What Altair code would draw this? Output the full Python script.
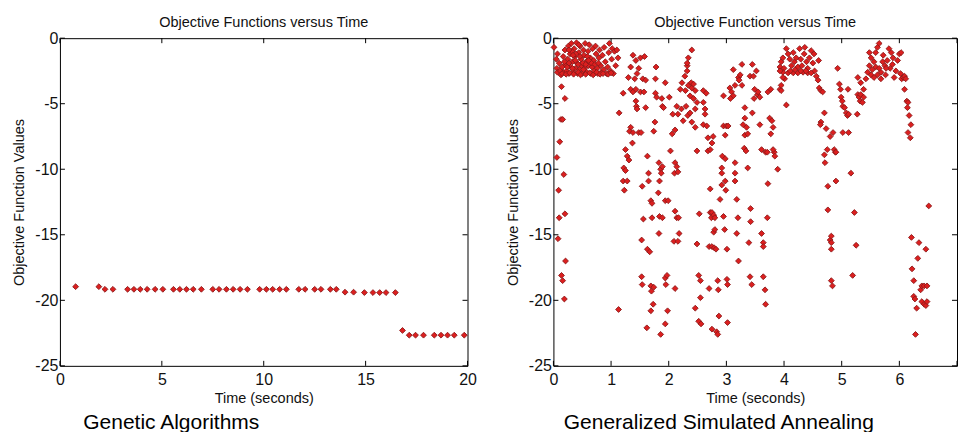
import altair as alt
import pandas as pd

# ---------------- data ----------------
ga_time = [0.77, 1.91, 2.21, 2.60, 3.32, 3.63, 3.94, 4.28, 4.67, 5.05, 5.57, 5.88, 6.21, 6.54,
           6.94, 7.50, 7.81, 8.17, 8.50, 8.84, 9.20, 9.80, 10.13, 10.44, 10.78, 11.11, 11.72,
           12.03, 12.50, 12.81, 13.27, 13.56, 13.99, 14.41, 14.94, 15.36, 15.69, 16.00, 16.46,
           16.81, 17.14, 17.45, 17.84, 18.37, 18.70, 19.02, 19.35, 19.84]
ga_value = [-18.96, -18.96, -19.16, -19.16, -19.16, -19.16, -19.16, -19.16, -19.16, -19.16,
            -19.16, -19.16, -19.16, -19.16, -19.16, -19.16, -19.16, -19.16, -19.16, -19.16,
            -19.16, -19.16, -19.16, -19.16, -19.16, -19.16, -19.16, -19.16, -19.16, -19.16,
            -19.16, -19.16, -19.38, -19.38, -19.41, -19.41, -19.41, -19.41, -19.41,
            -22.30, -22.66, -22.66, -22.66, -22.66, -22.66, -22.66, -22.66, -22.66]

gsa_seg_a = [
    (0.01, -0.7), (0.07, -1.2), (0.06, -9.1), (0.09, -11.6), (0.10, -13.7), (0.08, -15.3),
    (0.13, -6.2), (0.16, -6.2), (0.11, -7.9), (0.14, -3.7), (0.20, -4.6), (0.18, -10.4),
    (0.20, -13.4), (0.21, -17.0), (0.14, -18.1), (0.16, -18.5), (0.19, -19.9),
    (0.05, -1.6), (0.06, -2.3), (0.07, -2.6), (0.10, -1.9), (0.12, -2.5), (0.13, -2.8),
    (0.15, -2.2), (0.17, -1.4), (0.18, -2.6), (0.20, -0.9), (0.21, -2.0), (0.23, -2.5),
    (0.25, -1.6), (0.26, -0.6), (0.27, -2.7), (0.29, -1.2), (0.30, -2.2), (0.31, -0.4),
    (0.33, -1.8), (0.34, -2.6), (0.36, -0.8), (0.37, -1.4), (0.38, -2.3), (0.40, -0.35),
    (0.41, -1.9), (0.42, -2.7), (0.44, -1.1), (0.45, -2.4), (0.46, -0.6), (0.48, -1.6),
    (0.49, -2.1), (0.50, -2.7), (0.52, -0.9), (0.53, -1.3), (0.54, -2.3), (0.55, -0.4),
    (0.57, -1.8), (0.58, -2.6), (0.60, -1.0), (0.61, -2.1), (0.62, -0.5), (0.64, -1.5),
    (0.65, -2.7), (0.67, -2.2), (0.68, -0.8), (0.70, -1.7), (0.71, -2.5), (0.73, -0.6),
    (0.74, -1.2), (0.76, -2.3), (0.77, -2.7), (0.79, -1.5), (0.80, -0.9), (0.82, -2.1),
    (0.83, -2.6), (0.85, -1.3), (0.87, -2.4), (0.88, -0.7), (0.90, -1.8), (0.92, -2.7),
    (0.94, -2.2), (0.96, -1.1), (0.97, -0.4), (0.99, -2.5), (1.01, -1.6), (1.02, -0.8),
    (1.04, -2.7), (1.06, -1.0), (1.08, -2.1), (1.10, -0.9), (1.12, -1.5), (0.15, -2.7),
    (0.22, -2.75), (0.28, -2.65), (0.35, -2.75), (0.43, -2.6), (0.47, -2.8), (0.56, -2.75),
    (0.63, -2.65), (0.69, -2.8), (0.75, -2.6), (0.81, -2.75), (0.86, -2.7), (0.95, -2.75),
    (1.00, -2.65), (0.32, -1.0), (0.39, -1.2), (0.51, -1.9), (0.59, -1.4), (0.66, -1.9),
    (0.72, -2.0), (0.78, -1.9), (0.19, -1.8), (0.24, -2.2), (0.27, -1.9), (0.33, -2.3),
    (0.38, -1.7), (0.43, -2.0), (0.46, -1.4), (0.52, -2.4), (0.56, -2.0), (0.61, -1.7),
    (0.27, -0.9), (0.44, -0.5), (0.34, -1.3), (1.14, -5.7), (1.13, -20.7),
]

gsa_seg_b = [
    (1.21, -4.2), (1.25, -8.5), (1.28, -9.0), (1.22, -9.9), (1.25, -10.1), (1.21, -10.9),
    (1.23, -11.6), (1.28, -10.9), (1.31, -9.3), (1.34, -6.8), (1.32, -7.1), (1.38, -7.2),
    (1.37, -8.0), (1.34, -3.9), (1.38, -4.1), (1.43, -3.9), (1.38, -1.3), (1.43, -1.7),
    (1.45, -2.7), (1.41, -3.1), (1.30, -3.0), (1.34, -2.2), (1.44, -5.2), (1.45, -5.4),
    (1.43, -4.8), (1.48, -7.2), (1.52, -7.2), (1.51, -1.5), (1.58, -1.4), (1.48, -2.3),
    (1.55, -3.1), (1.60, -3.2), (1.51, -4.1), (1.57, -4.1), (1.60, -5.3), (1.53, -15.4),
    (1.56, -13.8), (1.54, -11.3), (1.53, -18.2), (1.54, -18.8), (1.63, -9.0), (1.65, -10.3),
    (1.65, -10.9), (1.63, -16.1), (1.67, -16.3), (1.62, -22.1), (1.69, -12.4), (1.71, -12.6),
    (1.69, -18.9), (1.70, -19.3), (1.74, -19.0), (1.69, -20.8), (1.73, -20.3), (1.71, -13.7),
    (1.76, -6.4), (1.74, -7.1), (1.77, -4.2), (1.77, -3.1), (1.78, -2.2), (1.79, -4.5),
    (1.82, -11.8), (1.86, -10.0), (1.83, -9.5), (1.84, -10.9), (1.87, -10.3), (1.89, -9.8),
    (1.84, -13.6), (1.89, -13.7), (1.83, -14.9), (1.86, -22.6), (1.88, -4.6), (1.89, -5.2),
    (1.91, -5.3), (1.94, -3.4), (1.94, -12.4), (1.99, -12.4), (1.94, -18.3), (1.97, -18.1),
    (1.95, -18.8), (1.94, -21.8), (1.98, -20.8), (2.01, -4.5), (2.03, -8.6), (2.06, -7.3),
    (2.07, -5.8), (2.11, -7.0), (2.11, -9.5), (2.10, -10.3), (2.14, -9.8), (2.16, -10.2),
    (2.11, -13.2), (2.14, -13.7), (2.17, -13.7), (2.18, -14.9), (2.09, -15.5), (2.16, -15.5),
    (2.11, -19.1), (2.16, -5.8), (2.14, -5.2), (2.20, -3.9), (2.22, -5.4), (2.23, -3.4),
    (2.25, -6.3), (2.28, -2.9), (2.29, -4.0), (2.30, -5.2), (2.32, -2.5), (2.32, -2.1),
    (2.34, -1.5), (2.40, -0.9), (2.34, -3.6), (2.39, -3.4), (2.40, -3.8), (2.43, -3.5),
    (2.37, -4.4), (2.43, -4.6), (2.46, -4.0), (2.33, -5.9), (2.37, -5.7), (2.40, -6.4),
    (2.32, -1.9),
]

gsa_seg_c = [
    (2.46, -6.8), (2.49, -8.6), (2.53, -13.4), (2.49, -15.7), (2.52, -18.1), (2.55, -18.5),
    (2.55, -19.8), (2.46, -20.6), (2.52, -21.6), (2.56, -21.8), (2.46, -5.4), (2.49, -4.9),
    (2.60, -4.0), (2.60, -4.9), (2.63, -5.4), (2.63, -5.8), (2.65, -4.2), (2.60, -6.6),
    (2.66, -6.7), (2.68, -7.6), (2.68, -8.6), (2.72, -8.5), (2.75, -8.0), (2.77, -7.5),
    (2.72, -11.5), (2.72, -13.3), (2.74, -13.7), (2.75, -13.3), (2.78, -13.5), (2.80, -13.7),
    (2.78, -14.8), (2.80, -14.6), (2.70, -15.9), (2.75, -15.9), (2.79, -16.0), (2.82, -16.1),
    (2.70, -19.1), (2.75, -22.2), (2.83, -22.4), (2.85, -22.6), (2.85, -18.5), (2.86, -19.2),
    (2.87, -21.2), (2.89, -12.3), (2.92, -9.9), (2.93, -9.0), (2.92, -10.3), (2.95, -4.4),
    (2.95, -6.7), (2.98, -7.4), (3.00, -6.7), (3.03, -6.7), (2.92, -11.2), (2.98, -10.9),
    (2.99, -11.6), (2.95, -13.6), (2.97, -14.6), (3.01, -16.1), (3.01, -18.4), (3.02, -18.8),
    (3.02, -21.7), (2.98, -9.2), (3.06, -3.8), (3.09, -4.1), (3.12, -4.4), (3.07, -4.6),
    (3.15, -3.6), (3.12, -2.4), (3.15, -9.5), (3.15, -10.3), (3.15, -10.9), (3.18, -12.3),
    (3.20, -13.7), (3.18, -14.9), (3.21, -17.0), (3.21, -3.0), (3.22, -3.2), (3.24, -2.8),
    (3.27, -2.0), (3.27, -3.6), (3.29, -6.6), (3.32, -6.1), (3.32, -5.3), (3.35, -6.8),
    (3.32, -7.4), (3.37, -7.3), (3.31, -8.4), (3.34, -8.6), (3.37, -9.9), (3.41, -2.9),
    (3.42, -13.0), (3.42, -14.0), (3.39, -15.6), (3.41, -18.2), (3.44, -18.8), (3.45, -2.0),
    (3.47, -2.9), (3.49, -3.9), (3.48, -4.6), (3.45, -5.7), (3.52, -2.5), (3.54, -4.3),
    (3.55, -4.1), (3.58, -4.5), (3.58, -6.6), (3.61, -8.5), (3.61, -14.9), (3.64, -15.6),
    (3.64, -15.9), (3.64, -18.2), (3.67, -19.2), (3.68, -20.3), (3.68, -8.7), (3.71, -8.7),
    (3.72, -11.1), (3.71, -13.7), (3.72, -4.1), (3.77, -3.9), (3.75, -6.1), (3.79, -6.3),
    (3.81, -6.8), (3.77, -7.3), (3.83, -8.7), (3.84, -9.0), (3.81, -8.5), (3.89, -10.0),
]

gsa_seg_d = [
    (3.93, -3.9), (3.95, -4.0), (3.93, -2.2), (3.95, -1.8), (3.98, -1.5), (4.00, -2.3),
    (4.04, -0.8), (4.07, -1.2), (4.10, -1.6), (4.13, -2.1), (4.16, -1.1), (4.18, -1.8),
    (4.21, -1.5), (4.24, -2.2), (4.27, -0.8), (4.29, -1.6), (4.31, -2.1), (4.35, -1.2),
    (4.36, -0.7), (4.39, -1.8), (4.41, -2.3), (4.44, -1.5), (4.47, -0.95), (4.50, -1.9),
    (4.52, -1.2), (4.53, -2.5), (4.56, -2.9), (4.59, -3.2), (4.61, -3.8), (4.64, -4.0),
    (4.67, -4.1), (4.60, -1.7), (3.98, -2.6), (4.07, -2.65), (4.16, -2.65), (4.24, -2.65),
    (4.33, -2.6), (4.41, -2.65), (4.47, -2.65), (4.11, -2.5), (4.19, -2.4), (4.29, -2.5),
    (4.38, -2.5), (4.01, -3.1), (3.95, -3.6), (4.04, -5.1), (3.98, -3.0), (3.93, -2.5),
    (4.64, -6.4), (4.63, -6.6), (4.70, -5.7), (4.73, -6.9), (4.70, -8.9), (4.71, -9.5),
    (4.75, -8.5), (4.76, -11.3), (4.76, -13.1), (4.80, -15.4), (4.82, -15.6), (4.82, -15.1),
    (4.82, -16.1), (4.82, -18.5), (4.84, -18.9), (4.80, -7.5), (4.85, -7.2), (4.87, -8.5),
    (4.89, -8.7), (4.90, -8.7), (4.90, -10.9), (4.93, -2.3), (4.96, -3.5), (4.98, -3.9),
    (4.99, -4.5), (5.01, -4.8), (5.02, -5.2), (5.05, -5.3), (5.08, -5.7), (5.10, -5.9),
    (5.12, -5.8), (5.11, -3.9), (5.12, -7.2), (5.02, -7.2), (5.16, -10.3), (5.19, -18.1),
    (5.22, -13.3), (5.25, -15.8), (5.27, -5.8), (5.28, -4.3), (5.30, -4.5), (5.32, -4.8),
    (5.33, -4.3), (5.36, -4.9), (5.38, -4.5), (5.33, -3.4), (5.28, -3.0), (5.38, -3.9),
    (5.42, -3.1), (5.45, -2.6), (5.48, -2.1), (5.51, -2.8), (5.53, -2.4), (5.56, -1.8),
    (5.59, -1.1), (5.62, -0.7), (5.65, -0.4), (5.59, -2.2), (5.62, -2.8), (5.68, -2.6),
    (5.71, -1.8), (5.72, -1.3), (5.75, -2.1), (5.76, -2.8), (5.79, -1.7), (5.82, -0.8),
    (5.84, -2.3), (5.86, -1.1), (5.88, -2.0), (5.91, -3.0), (5.94, -2.5), (5.97, -1.7),
    (6.00, -1.2), (6.02, -2.7), (6.03, -1.1), (6.04, -3.1), (6.07, -3.0), (6.09, -2.9),
    (6.11, -3.1), (5.51, -1.5), (5.48, -1.1), (5.56, -3.0), (5.68, -3.1), (5.65, -2.3),
    (5.77, -2.3), (5.89, -1.5), (6.09, -3.9), (6.13, -4.8), (6.15, -4.9), (6.14, -5.3),
    (6.17, -5.9), (6.15, -7.2), (6.19, -7.6), (6.20, -6.6), (6.21, -15.2), (6.22, -17.6),
    (6.25, -18.5), (6.25, -19.7), (6.27, -19.9), (6.30, -20.6), (6.28, -22.6), (6.32, -16.8),
    (6.34, -15.6), (6.37, -19.2), (6.39, -18.9), (6.43, -18.9), (6.39, -20.1), (6.43, -20.3),
    (6.46, -20.4), (6.48, -20.1), (6.46, -16.1), (6.48, -18.9), (6.51, -12.8),
]

ga_xticks = [0, 5, 10, 15, 20]
gsa_xticks = [0, 1, 2, 3, 4, 5, 6, 7]
y_ticks = [0, -5, -10, -15, -20, -25]

# ---------------- style ----------------
FONT = "Liberation Sans"
TXT = "#111111"
H = 328
TL = 5


def panel(time, value, xticks, xmax, width, top_title, caption, cap_dx):
    xs = alt.Scale(domain=[0, xmax], nice=False, zero=False)
    ys = alt.Scale(domain=[-25, 0], nice=False)
    x_enc = alt.X(
        "t:Q", scale=xs,
        axis=alt.Axis(values=xticks, title="Time (seconds)", ticks=False, grid=False,
                      domain=False, labelFontSize=16, labelFont=FONT, labelColor=TXT,
                      labelPadding=6, titleFont=FONT, titleFontSize=14.5,
                      titleFontWeight="normal", titleColor=TXT, titlePadding=4,
                      labelExpr="datum.value == 7 ? '' : '' + datum.value",
                      labelFlush=False),
    )
    y_enc = alt.Y(
        "v:Q", scale=ys,
        axis=alt.Axis(values=y_ticks, title="Objective Function Values", ticks=False,
                      grid=False, domain=False, labelFontSize=16, labelFont=FONT,
                      labelColor=TXT, labelPadding=2, titleFont=FONT, titleFontSize=14.5,
                      titleFontWeight="normal", titleColor=TXT, titlePadding=8,
                      labelExpr="'' + datum.value"),
    )
    pts = pd.DataFrame({"t": time, "v": value})
    xt = pd.DataFrame({"t": xticks})
    yt = pd.DataFrame({"v": y_ticks})

    points = alt.Chart(pts).mark_point(
        shape="diamond", filled=True, size=34, fill="#dc1f1f", stroke="#8c1a1a",
        strokeWidth=0.9, opacity=1,
    ).encode(x=x_enc, y=y_enc)

    rule_style = dict(color="black", strokeWidth=1)
    xb = alt.Chart(xt).mark_rule(**rule_style).encode(x=x_enc, y=alt.value(H), y2=alt.value(H - TL))
    xtp = alt.Chart(xt).mark_rule(**rule_style).encode(x=x_enc, y=alt.value(0), y2=alt.value(TL))
    yl = alt.Chart(yt).mark_rule(**rule_style).encode(y=y_enc, x=alt.value(0), x2=alt.value(TL))
    yr = alt.Chart(yt).mark_rule(**rule_style).encode(y=y_enc, x=alt.value(width), x2=alt.value(width - TL))

    layer = alt.layer(xb, xtp, yl, yr, points).properties(
        width=width, height=H,
        title=alt.TitleParams(top_title, font=FONT, fontSize=14.5, fontWeight="normal",
                              color=TXT, offset=0),
    )
    return alt.vconcat(layer).properties(
        title=alt.TitleParams(caption, orient="bottom", anchor="start", dx=cap_dx,
                              font=FONT, fontSize=21, fontWeight="normal",
                              color="#000000", offset=6)
    )


gsa_all = gsa_seg_a + gsa_seg_b + gsa_seg_c + gsa_seg_d
gsa_time = [p[0] for p in gsa_all]
gsa_value = [p[1] for p in gsa_all]

left = panel(ga_time, ga_value, ga_xticks, 20, 408, "Objective Functions versus Time",
             "Genetic Algorithms", 72)
right = panel(gsa_time, gsa_value, gsa_xticks, 7, 404, "Objective Function versus Time",
              "Generalized Simulated Annealing", 59)

chart = alt.hconcat(left, right, spacing=27).properties(
    padding={"left": 11, "top": 14, "right": 0, "bottom": 0},
    background="white",
).configure_view(stroke="black", strokeWidth=1).configure_concat(spacing=27)

chart.save("out.html", embed_options={"renderer": "svg", "actions": False})
